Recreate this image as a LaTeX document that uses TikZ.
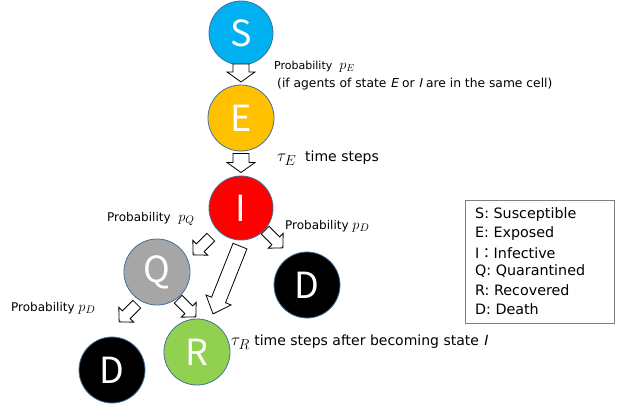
\documentclass[tikz,border=0pt]{standalone}
\usepackage{fontspec}
\setmainfont{DejaVu Sans}
\newfontfamily\slnt[FakeSlant=0.2]{DejaVu Sans}
\newfontfamily\letterfont{Noto Sans CJK JP}
\newcommand{\bigmath}[2]{{\fontsize{#1}{#1}\selectfont$#2$}}
\usetikzlibrary{calc}
\definecolor{sblue}{HTML}{00B0F0}
\definecolor{eorange}{HTML}{FFC000}
\definecolor{ired}{HTML}{FF0000}
\definecolor{qgray}{HTML}{A6A6A6}
\definecolor{rgreen}{HTML}{92D050}
\definecolor{edgeblue}{HTML}{41719C}
\begin{document}
\begin{tikzpicture}[x=1pt,y=-1pt,
  state/.style={circle, draw=edgeblue, line width=0.8pt, minimum size=#1, inner sep=0pt,
    text=white, font=\letterfont\fontsize{36}{36}\selectfont},
  state/.default=64pt,
  blkline/.style={draw=black, fill=white, line width=0.8pt, line join=miter},
  pics/barrow/.style n args={4}{code={
    \draw[blkline] ({-0.5*#1},{0.5*#3}) -- ({0.5*#1-#4},{0.5*#3}) -- ({0.5*#1-#4},{0.5*#2})
      -- ({0.5*#1},0) -- ({0.5*#1-#4},{-0.5*#2}) -- ({0.5*#1-#4},{-0.5*#3})
      -- ({-0.5*#1},{-0.5*#3}) -- cycle;}},
  lab/.style={anchor=west, inner sep=0pt, font=\fontsize{11}{13}\selectfont},
  biglab/.style={anchor=west, inner sep=0pt, font=\fontsize{12}{14}\selectfont},
  taulab/.style={anchor=west, inner sep=0pt, font=\fontsize{14}{16}\selectfont},
  leglab/.style={anchor=west, inner sep=0pt, font=\fontsize{14.3}{16}\selectfont}]
\useasboundingbox (0,0) rectangle (624,408);

% states
\node[state, fill=sblue] (S) at (241,33) {S};
\node[state=66pt, fill=eorange] (E) at (241,118) {E};
\node[state, fill=ired] (I) at (241,208) {I};
\node[state=66pt, fill=qgray] (Q) at (157,272) {Q};
\node[state=66pt, fill=black] (Dr) at (307,285) {D};
\node[state=66pt, fill=rgreen] (R) at (197,352) {R};
\node[state=66pt, fill=black] (Dl) at (112,370) {D};

% block arrows
\pic[rotate=-90] (aSE) at ($(S)!0.47!(E)$) {barrow={18}{28}{16}{10}};
\pic[rotate=-90] (aEI) at ($(E)!0.5!(I)$) {barrow={19}{28}{16}{10}};
\pic[rotate=-111.7] (aIR) at (226.5,280) {barrow={73}{27}{15}{15}};
\pic[rotate=225] (aIQ) at (202,246) {barrow={25}{21}{11}{10}};
\pic[rotate=-45] (aID) at (274,239) {barrow={25}{21}{11}{10}};
\pic[rotate=225] (aQD) at (128,313) {barrow={25}{21}{11}{10}};
\pic[rotate=-45] (aQR) at (187,308) {barrow={25}{21}{11}{10}};

% labels
\node[lab] (lpe) at (274,67) {Probability\ \ \bigmath{14}{p_E}};
\node[lab, font=\fontsize{12.3}{14}\selectfont] (lcond) at (277,84) {(if agents of state {\slnt E} or {\slnt I} are in the same cell)};
\node[taulab] (ltauE) at (277,158) {\bigmath{19}{\tau_E}\ \ time steps};
\node[biglab] (lpq) at (107,219) {Probability\ \ \bigmath{15}{p_Q}};
\node[biglab] (lpdr) at (285,226) {Probability \bigmath{15}{p_D}};
\node[biglab] (lpdl) at (11,308) {Probability \bigmath{15}{p_D}};
\node[taulab] (ltauR) at (231,342) {\bigmath{19}{\tau_R}\ time steps after becoming state {\slnt I}};

% legend
\node[draw=gray, line width=0.6pt, rectangle, minimum width=149pt, minimum height=123pt,
  inner sep=0pt, anchor=north west] (leg) at (465,200) {};
\node[leglab] (l1) at (475,215) {S: Susceptible};
\node[leglab] (l2) at (475,234) {E: Exposed};
\node[leglab] (l3) at (475,253) {I{\letterfont ：}Infective};
\node[leglab] (l4) at (475,271) {Q: Quarantined};
\node[leglab] (l5) at (475,290) {R: Recovered};
\node[leglab] (l6) at (475,309) {D: Death};
\end{tikzpicture}
\end{document}
